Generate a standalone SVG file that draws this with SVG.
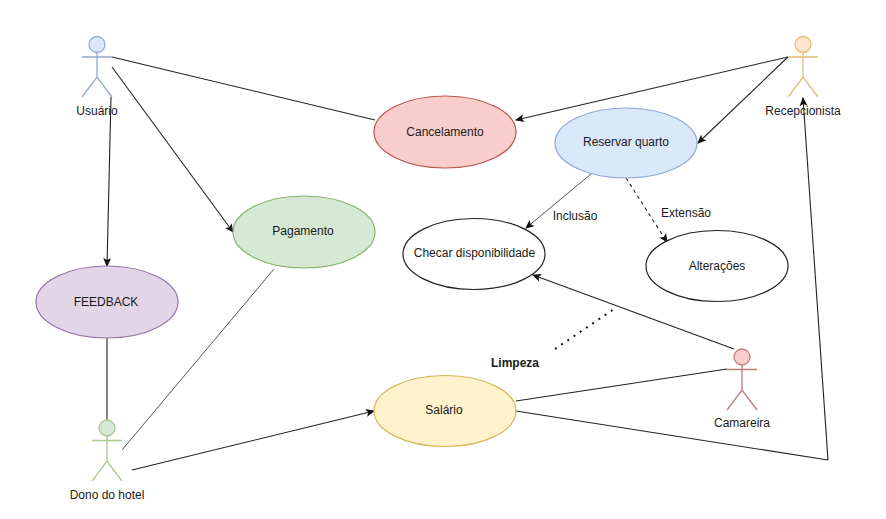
<svg xmlns="http://www.w3.org/2000/svg" width="886" height="519" viewBox="0 0 886 519">
<style>
text{font-family:"Liberation Sans",Arial,sans-serif;font-size:12px;fill:#1a1a1a;text-anchor:middle}
.c{fill:none;stroke:#222;stroke-width:1.1}
.t{stroke:#555;stroke-width:1}
.d{stroke-dasharray:3.5 3.5}
.e{stroke-width:1.2}
</style>
<defs>
<marker id="arr" markerWidth="10" markerHeight="10" refX="8" refY="4" orient="auto" markerUnits="userSpaceOnUse">
<path d="M0,0L9,4L0,8L2,4Z" fill="#111"/>
</marker>
</defs>
<rect width="886" height="519" fill="#fff"/>
<g id="connectors">
<line class="c" x1="112" y1="57" x2="375" y2="120"/>
<line class="c" x1="112" y1="67" x2="233" y2="232" marker-end="url(#arr)"/>
<line class="c" x1="111" y1="97" x2="107" y2="266" marker-end="url(#arr)"/>
<line class="c" x1="107" y1="338" x2="107" y2="420"/>
<line class="c t" x1="122" y1="450" x2="274" y2="269"/>
<line class="c" x1="132" y1="470" x2="374" y2="411" marker-end="url(#arr)"/>
<line class="c" x1="788" y1="57" x2="698" y2="143" marker-end="url(#arr)"/>
<line class="c" x1="788" y1="57" x2="516" y2="120" marker-end="url(#arr)"/>
<line class="c t" x1="591" y1="174" x2="526" y2="228" marker-end="url(#arr)"/>
<line class="c d" x1="626" y1="178" x2="667" y2="242" marker-end="url(#arr)"/>
<line class="c" x1="734" y1="349" x2="533" y2="275" marker-end="url(#arr)"/>
<line x1="555" y1="349" x2="614" y2="309" stroke="#111" stroke-width="2" stroke-dasharray="2 5.5"/>
<line class="c" x1="516" y1="401" x2="727" y2="369"/>
<line class="c" x1="516" y1="411" x2="828" y2="460"/>
<line class="c" x1="828" y1="460" x2="803" y2="98" marker-end="url(#arr)"/>
</g>
<g id="usuario" fill="none" stroke="#8ea9d3" stroke-width="1.3">
<circle cx="97" cy="44.500" r="8" fill="#dae8fc"/>
<path d="M97 52.500V77M82 57H112M82 97L97 77L112 97"/>
<text x="97" y="115" stroke="none">Usuário</text>
</g>
<g id="recepcionista" fill="none" stroke="#e8b96e" stroke-width="1.3">
<circle cx="803" cy="44.500" r="8" fill="#ffe6cc"/>
<path d="M803 52.500V77M788 57H818M788 97L803 77L818 97"/>
<text x="803" y="115" stroke="none">Recepcionista</text>
</g>
<g id="dono" fill="none" stroke="#a9c98f" stroke-width="1.3">
<circle cx="107" cy="428" r="8" fill="#d5e8d4"/>
<path d="M107 436V461M92 440.500H122M92 481L107 461L122 481"/>
<text x="107" y="499" stroke="none">Dono do hotel</text>
</g>
<g id="camareira" fill="none" stroke="#c27a76" stroke-width="1.3">
<circle cx="742" cy="357" r="8" fill="#f8cecc"/>
<path d="M742 365V390M727 369.500H757M727 410L742 390L757 410"/>
<text x="742" y="427" stroke="none">Camareira</text>
</g>
<g id="cancelamento"><ellipse class="e" cx="445" cy="132" rx="71" ry="36" fill="#f8cecc" stroke="#b85450"/><text x="445" y="136">Cancelamento</text></g>
<g id="pagamento"><ellipse class="e" cx="304" cy="232" rx="71" ry="36" fill="#d5e8d4" stroke="#82b366"/><text x="303" y="235">Pagamento</text></g>
<g id="reservar"><ellipse class="e" cx="626" cy="143" rx="71" ry="35" fill="#dae8fc" stroke="#8ea9d3"/><text x="626" y="146">Reservar quarto</text></g>
<g id="checar"><ellipse class="e" cx="474" cy="254" rx="71" ry="35.500" fill="#fff" stroke="#222"/><text x="474.500" y="257">Checar disponibilidade</text></g>
<g id="alteracoes"><ellipse class="e" cx="717" cy="266" rx="71" ry="35.500" fill="#fff" stroke="#222"/><text x="717" y="270">Alterações</text></g>
<g id="feedback"><ellipse class="e" cx="107" cy="302" rx="71" ry="36" fill="#e1d5e7" stroke="#9673a6"/><text x="106" y="306">FEEDBACK</text></g>
<g id="salario"><ellipse class="e" cx="445" cy="411" rx="71" ry="35.500" fill="#fff2cc" stroke="#d6b656"/><text x="444" y="414">Salário</text></g>
<g id="labels">
<text x="575" y="220">Inclusão</text>
<text x="686" y="217">Extensão</text>
<text x="515" y="367" font-weight="bold">Limpeza</text>
</g>
</svg>
